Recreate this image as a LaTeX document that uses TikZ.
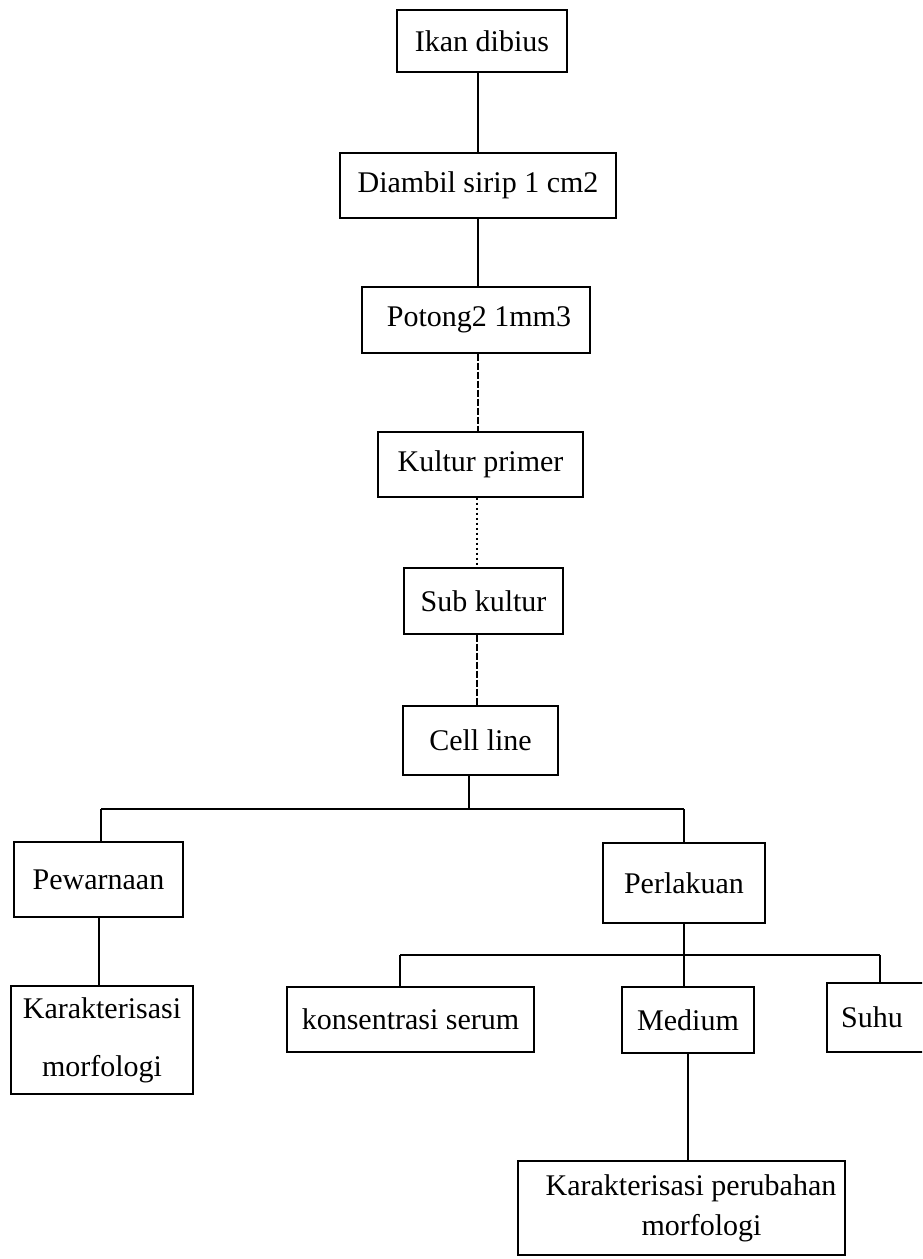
\documentclass[tikz,border=0pt]{standalone}
\usepackage{fontspec}
\setmainfont{Liberation Serif}
\begin{document}
\begin{tikzpicture}[x=1pt,y=-1pt,
  box/.style={draw, line width=1.3pt, inner sep=0pt, align=center, font=\fontsize{30}{38}\selectfont},
  conn/.style={line width=1.3pt},
  dconn/.style={line width=1.3pt, dash pattern=on 7pt off 2pt},
  tconn/.style={line width=1.3pt, dash pattern=on 2pt off 3pt}]
\useasboundingbox (0,0) rectangle (922,1259);
\clip (0,0) rectangle (922,1259);
% main chain
\node[box, minimum width=170pt, minimum height=62pt] (ikan) at (482,41) {Ikan dibius};
\node[box, minimum width=276pt, minimum height=65pt] (diambil) at (478,185.5) {Diambil sirip 1 cm2};
\node[box, minimum width=228pt, minimum height=66pt] (potong) at (476,320) {\hspace*{6pt}Potong2 1mm3};
\node[box, minimum width=205pt, minimum height=65pt] (kultur) at (480.5,464.5) {Kultur primer};
\node[box, minimum width=159pt, minimum height=66pt] (sub) at (483.5,601) {Sub kultur};
\node[box, minimum width=155pt, minimum height=69pt] (cell) at (480.5,740.5) {Cell line};
% second level
\node[box, minimum width=169pt, minimum height=75pt] (pew) at (98.5,879.5) {Pewarnaan};
\node[box, minimum width=162pt, minimum height=80pt] (perl) at (684,883) {Perlakuan};
% third level
\node[box, minimum width=182pt, minimum height=108pt, font=\fontsize{30}{58}\selectfont] (karm) at (102,1040) {Karakterisasi\\morfologi};
\node[box, minimum width=247pt, minimum height=65pt] (kons) at (410.5,1019.5) {konsentrasi serum};
\node[box, minimum width=132pt, minimum height=66pt] (med) at (688,1020) {Medium};
\node[box, minimum width=98pt, minimum height=69pt] (suhu) at (876,1017.5) {\hspace*{-8pt}Suhu};
\node[box, minimum width=327pt, minimum height=94pt, font=\fontsize{30}{40}\selectfont] (karper) at (681.5,1208) {\hspace*{19pt}Karakterisasi perubahan\\\hspace*{40pt}morfologi};
% connectors of the main chain
\draw[conn] (ikan.south -| diambil.north) -- (diambil.north);
\draw[conn] (diambil.south) -- (diambil.south |- potong.north);
\draw[dconn] (potong.south -| 478,0) -- (478,0 |- kultur.north);
\draw[tconn] (kultur.south -| 477,0) -- (477,0 |- sub.north);
\draw[dconn] (sub.south -| 477,0) -- (477,0 |- cell.north);
% first branching
\coordinate (busL) at (101,809);
\coordinate (busR) at (684,809);
\coordinate (cellj) at (469,809);
\draw[conn] (cell.south -| cellj) -- (cellj);
\draw[conn] (busL) -- (busR);
\draw[conn] (busL) -- (busL |- pew.north);
\draw[conn] (busR) -- (busR |- perl.north);
\coordinate (pewj) at (99,0);
\draw[conn] (pewj |- pew.south) -- (pewj |- karm.north);
% second branching
\coordinate (b2L) at (400,955);
\coordinate (b2M) at (684,955);
\coordinate (b2R) at (880,955);
\draw[conn] (perl.south) -- (b2M);
\draw[conn] (b2L) -- (b2R);
\draw[conn] (b2L) -- (b2L |- kons.north);
\draw[conn] (b2M) -- (b2M |- med.north);
\draw[conn] (b2R) -- (b2R |- suhu.north);
\draw[conn] (med.south) -- (med.south |- karper.north);
\end{tikzpicture}
\end{document}
